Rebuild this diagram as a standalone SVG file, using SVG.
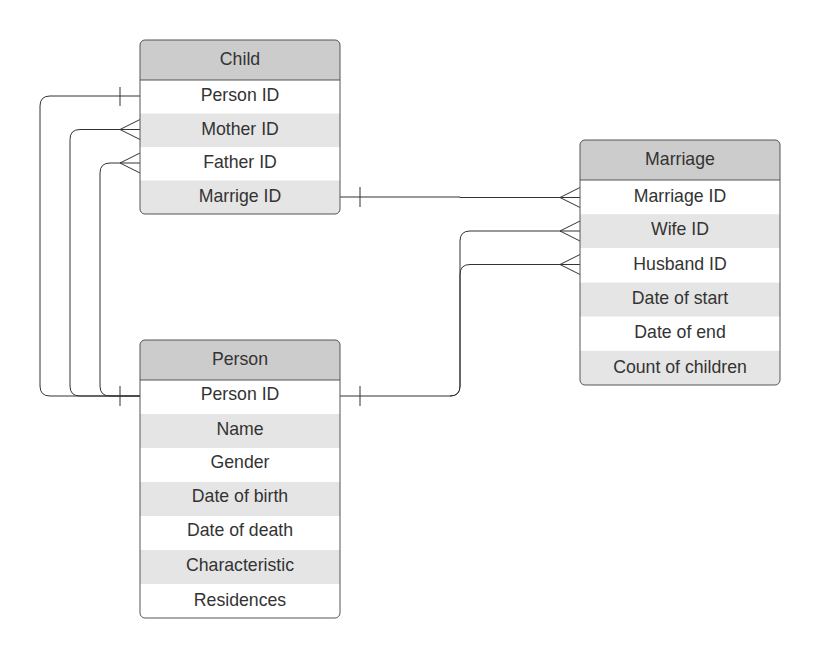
<svg xmlns="http://www.w3.org/2000/svg" width="820" height="658" viewBox="0 0 820 658">
<style>
.hdr{fill:#cccccc}
.alt{fill:#e5e5e5}
.wht{fill:#ffffff}
.frame{fill:none;stroke:#555555;stroke-width:1}
.sep{stroke:#555555;stroke-width:1}
text{font-family:"Liberation Sans",Arial,sans-serif;font-size:17.7px;fill:#333333;text-anchor:middle}
.conn path{fill:none;stroke:#333333;stroke-width:1}
</style>
<defs>
<clipPath id="cChild"><rect x="140" y="40" width="200" height="174" rx="5"/></clipPath>
<clipPath id="cPerson"><rect x="140" y="340" width="200" height="278" rx="5"/></clipPath>
<clipPath id="cMarriage"><rect x="580" y="140" width="200" height="245" rx="5"/></clipPath>
</defs>
<rect width="820" height="658" fill="#ffffff"/>

<g class="conn" id="connectors">
<path d="M140,96 H50 Q40,96 40,106 V386 Q40,396 50,396 H140"/>
<path d="M120,87 V106 M120,386 V406"/>
<path d="M120,129.5 H80 Q70,129.5 70,139.5 V386 Q70,396 80,396 H140"/>
<path d="M140,119.5 L120,129.5 L140,139.5 M120,129.5 H140"/>
<path d="M120,163 H110 Q100,163 100,173 V386 Q100,396 110,396 H140"/>
<path d="M140,153 L120,163 L140,173 M120,163 H140"/>
<path d="M340,197 H460 V197.5 H580"/>
<path d="M360,187 V207"/>
<path d="M580,187.5 L560,197.5 L580,207.5"/>
<path d="M580,231 H470 Q460,231 460,241 V386 Q460,396 450,396 H340"/>
<path d="M580,221 L560,231 L580,241"/>
<path d="M580,264.5 H470 Q460,264.5 460,274.5 V386 Q460,396 450,396"/>
<path d="M580,254.5 L560,264.5 L580,274.5"/>
<path d="M360,386 V406"/>
</g>

<g id="child">
<g clip-path="url(#cChild)">
<rect class="hdr" x="140" y="40" width="200" height="40"/>
<rect class="wht" x="140" y="80" width="200" height="33.5"/>
<rect class="alt" x="140" y="113.5" width="200" height="33.5"/>
<rect class="wht" x="140" y="147" width="200" height="33.5"/>
<rect class="alt" x="140" y="180.5" width="200" height="33.5"/>
</g>
<line class="sep" x1="140" y1="80" x2="340" y2="80"/>
<rect class="frame" x="140" y="40" width="200" height="174" rx="5"/>
<text x="240" y="65">Child</text>
<text x="240" y="101">Person ID</text>
<text x="240" y="135">Mother ID</text>
<text x="240" y="168">Father ID</text>
<text x="240" y="202">Marrige ID</text>
</g>

<g id="person">
<g clip-path="url(#cPerson)">
<rect class="hdr" x="140" y="340" width="200" height="40"/>
<rect class="wht" x="140" y="380" width="200" height="34"/>
<rect class="alt" x="140" y="414" width="200" height="34"/>
<rect class="wht" x="140" y="448" width="200" height="34"/>
<rect class="alt" x="140" y="482" width="200" height="34"/>
<rect class="wht" x="140" y="516" width="200" height="34"/>
<rect class="alt" x="140" y="550" width="200" height="34"/>
<rect class="wht" x="140" y="584" width="200" height="34"/>
</g>
<line class="sep" x1="140" y1="380" x2="340" y2="380"/>
<rect class="frame" x="140" y="340" width="200" height="278" rx="5"/>
<text x="240" y="365">Person</text>
<text x="240" y="400">Person ID</text>
<text x="240" y="435">Name</text>
<text x="240" y="468">Gender</text>
<text x="240" y="502">Date of birth</text>
<text x="240" y="536">Date of death</text>
<text x="240" y="571">Characteristic</text>
<text x="240" y="606">Residences</text>
</g>

<g id="marriage">
<g clip-path="url(#cMarriage)">
<rect class="hdr" x="580" y="140" width="200" height="40"/>
<rect class="wht" x="580" y="180" width="200" height="34.2"/>
<rect class="alt" x="580" y="214.2" width="200" height="34.1"/>
<rect class="wht" x="580" y="248.3" width="200" height="34.2"/>
<rect class="alt" x="580" y="282.5" width="200" height="34.2"/>
<rect class="wht" x="580" y="316.7" width="200" height="34.1"/>
<rect class="alt" x="580" y="350.8" width="200" height="34.2"/>
</g>
<line class="sep" x1="580" y1="180" x2="780" y2="180"/>
<rect class="frame" x="580" y="140" width="200" height="245" rx="5"/>
<text x="680" y="165">Marriage</text>
<text x="680" y="202">Marriage ID</text>
<text x="680" y="235">Wife ID</text>
<text x="680" y="270">Husband ID</text>
<text x="680" y="304">Date of start</text>
<text x="680" y="338">Date of end</text>
<text x="680" y="373">Count of children</text>
</g>
</svg>
